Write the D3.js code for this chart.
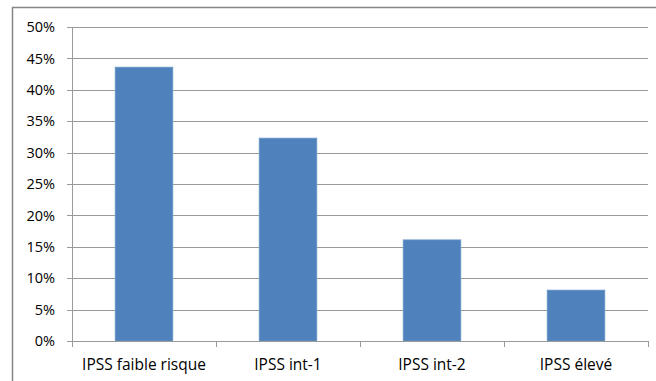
<!DOCTYPE html>
<html>
<head>
<meta charset="utf-8">
<script src="https://cdn.jsdelivr.net/npm/d3@7"></script>
<style>
  body { margin: 0; background: #fff; }
  text { font-family: "Open Sans", "Liberation Sans", sans-serif; fill: #000; }
</style>
</head>
<body>
<div id="chart"></div>
<script>
const WIDTH  = 656;
const HEIGHT = 381;

const categories = ["IPSS faible risque", "IPSS int-1", "IPSS int-2", "IPSS élevé"];
const values     = [43.6, 32.3, 16.1, 8.1];
const yTicks     = [0, 5, 10, 15, 20, 25, 30, 35, 40, 45, 50];

const plot = { left: 72, right: 648, top: 27, bottom: 341 };

var svg = d3.select("#chart")
            .append("svg")
            .attr("width", WIDTH)
            .attr("height", HEIGHT);

// outer chart frame (runs off the right and bottom edge)
svg.append("rect")
   .attr("x", 12.5)
   .attr("y", 7.5)
   .attr("width", WIDTH)
   .attr("height", HEIGHT)
   .attr("fill", "none")
   .attr("stroke", "#868686")
   .attr("stroke-width", 1.5);

var x = d3.scaleBand()
          .domain(categories)
          .range([plot.left, plot.right])
          .paddingInner(0.6)
          .paddingOuter(0.3);

var xEdges = d3.scaleLinear()
               .domain([0, categories.length])
               .range([plot.left, plot.right]);

var y = d3.scaleLinear()
          .domain([0, 50])
          .range([plot.bottom, plot.top]);

// gridlines + y ticks
var yAxis = d3.axisLeft(y)
              .tickValues(yTicks)
              .tickSize(-(plot.right - plot.left))
              .tickPadding(17)
              .tickFormat(d => d + "%");

var gy = svg.append("g")
            .attr("transform", "translate(" + plot.left + ",0)")
            .call(yAxis);
gy.select(".domain").remove();
gy.selectAll(".tick line")
  .attr("x1", -5)
  .attr("stroke", "#9a9a9a")
  .attr("shape-rendering", "crispEdges");
gy.selectAll(".tick text")
  .attr("font-size", 14.5)
  .attr("font-family", null);

// y axis line
svg.append("line")
   .attr("x1", plot.left + 0.5).attr("x2", plot.left + 0.5)
   .attr("y1", plot.top).attr("y2", plot.bottom)
   .attr("stroke", "#9a9a9a");

// bars
svg.selectAll("rect.bar")
   .data(values)
   .enter()
   .append("rect")
   .attr("class", "bar")
   .attr("x", (d, i) => x(categories[i]))
   .attr("y", d => y(d))
   .attr("width", x.bandwidth())
   .attr("height", d => y(0) - y(d))
   .attr("fill", "#4f81bd")
   .attr("stroke", "#6b96c9")
   .attr("stroke-width", 0.8);

// x axis line and category boundary ticks
svg.append("line")
   .attr("x1", plot.left).attr("x2", plot.right)
   .attr("y1", plot.bottom + 0.5).attr("y2", plot.bottom + 0.5)
   .attr("stroke", "#9a9a9a");

svg.selectAll("line.xtick")
   .data(d3.range(categories.length + 1))
   .enter()
   .append("line")
   .attr("class", "xtick")
   .attr("x1", d => Math.round(xEdges(d)) + 0.5)
   .attr("x2", d => Math.round(xEdges(d)) + 0.5)
   .attr("y1", plot.bottom)
   .attr("y2", plot.bottom + 6)
   .attr("stroke", "#9a9a9a");

svg.selectAll("text.xlabel")
   .data(categories)
   .enter()
   .append("text")
   .attr("class", "xlabel")
   .attr("x", d => x(d) + x.bandwidth() / 2)
   .attr("y", 370)
   .attr("text-anchor", "middle")
   .attr("font-size", 15.5)
   .text(d => d);
</script>
</body>
</html>
